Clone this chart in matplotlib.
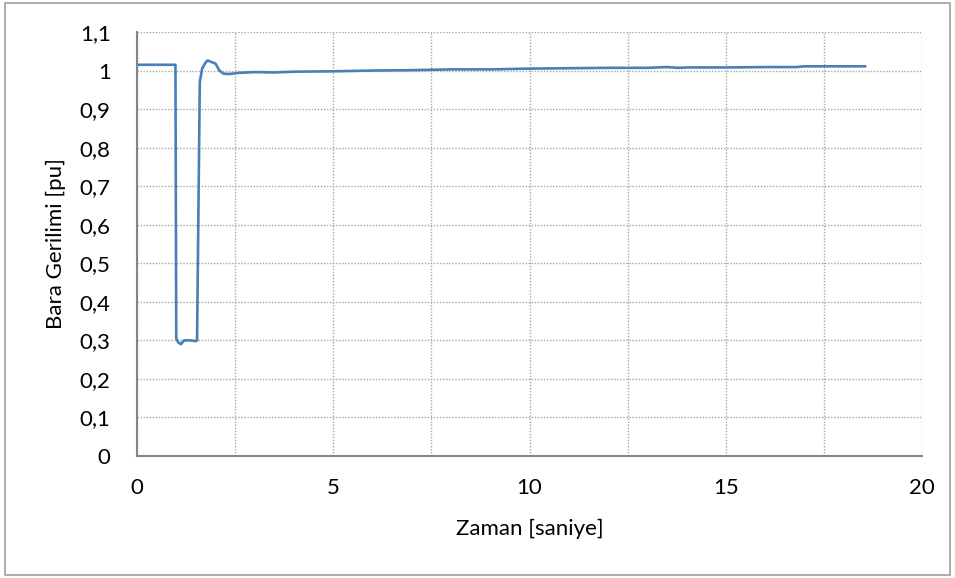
import numpy as np
import matplotlib.pyplot as plt
from matplotlib.patches import Rectangle
from matplotlib.ticker import MultipleLocator, FuncFormatter

# Bara gerilimi (pu) - zaman (s)
zaman = [0.0, 0.98, 1.0, 1.05, 1.12, 1.2, 1.35, 1.5, 1.53, 1.6, 1.66, 1.74,
         1.8, 1.9, 2.0, 2.1, 2.2, 2.35, 2.6, 3.0, 3.5, 4.0, 5.0, 6.0, 7.0,
         8.0, 9.0, 10.0, 11.0, 12.0, 13.0, 13.5, 13.8, 14.0, 15.0, 16.0, 16.8,
         17.0, 18.0, 18.55]
gerilim = [1.015, 1.015, 0.305, 0.295, 0.29, 0.30, 0.30, 0.298, 0.30, 0.97,
           1.005, 1.02, 1.026, 1.022, 1.018, 1.0, 0.992, 0.991, 0.994, 0.996,
           0.995, 0.997, 0.998, 1.0, 1.001, 1.003, 1.003, 1.005, 1.006, 1.007,
           1.007, 1.009, 1.007, 1.008, 1.008, 1.009, 1.009, 1.011, 1.011, 1.011]

plt.rcParams['font.family'] = ['Lato', 'DejaVu Sans']

fig = plt.figure(figsize=(9.55, 5.78), dpi=100)
fig.patches.append(Rectangle((0.005, 0.005), 0.99, 0.99, transform=fig.transFigure,
                             fill=False, edgecolor='#a0a0a0', linewidth=1.2))
ax = fig.add_axes([137/955, 1 - 456/578, 785/955, 424/578])

ax.plot(zaman, gerilim, color='#4a7ebb', linewidth=1.9)

ax.set_xlim(0, 20)
ax.set_ylim(0, 1.1)
ax.xaxis.set_major_locator(MultipleLocator(5))
ax.xaxis.set_minor_locator(MultipleLocator(2.5))
ax.yaxis.set_major_locator(MultipleLocator(0.1))


def virgul(v, p):
    if abs(v - round(v)) < 1e-9:
        return '%d' % round(v)
    return ('%.1f' % v).replace('.', ',')


ax.yaxis.set_major_formatter(FuncFormatter(virgul))
ax.xaxis.set_major_formatter(FuncFormatter(lambda v, p: '%d' % v))

ax.grid(True, which='both', axis='x', linestyle=(0, (1, 1.2)), color='#a6a6a6', linewidth=1)
ax.grid(True, which='major', axis='y', linestyle=(0, (1, 1.2)), color='#a6a6a6', linewidth=1)
ax.set_axisbelow(True)

for s in ['top', 'right']:
    ax.spines[s].set_visible(False)
for s in ['left', 'bottom']:
    ax.spines[s].set_color('#868686')
    ax.spines[s].set_linewidth(1.5)

ax.tick_params(which='both', length=0, labelsize=16, colors='black')
ax.tick_params(axis='y', pad=19)
ax.tick_params(axis='x', pad=16)

ax.set_xlabel('Zaman [saniye]', fontsize=16, labelpad=15)
ax.set_ylabel('Bara Gerilimi [pu]', fontsize=16, labelpad=10)

fig.savefig('out.png', dpi=100)
